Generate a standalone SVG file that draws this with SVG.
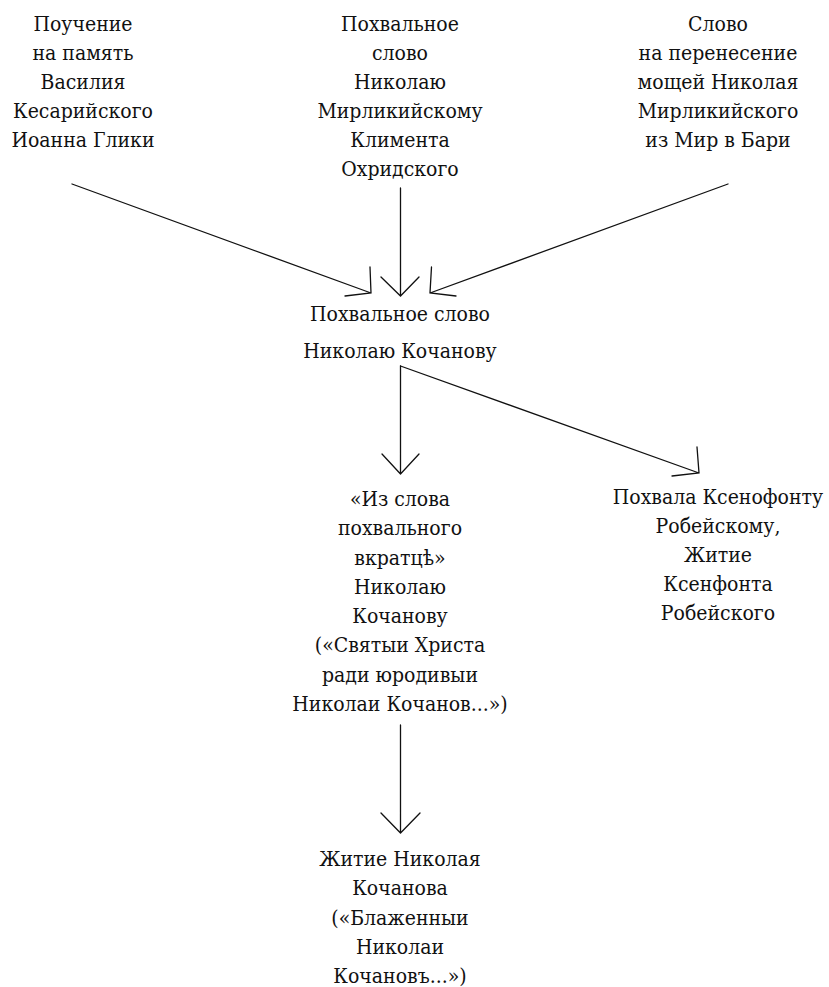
<svg xmlns="http://www.w3.org/2000/svg" width="829" height="987" viewBox="0 0 829 987">
<style>
text{font-size:21px;fill:#111;text-anchor:middle}
.c{fill:none;stroke:#111;stroke-width:1.3;stroke-linecap:round;stroke-linejoin:miter}
</style>
<rect width="829" height="987" fill="#fff"/>
<g font-family="'DejaVu Serif Condensed','DejaVu Serif','Liberation Serif',serif">
<g id="n1">
<text x="83" y="30.5">Поучение</text>
<text x="83" y="59.5">на память</text>
<text x="83" y="88.5">Василия</text>
<text x="83" y="118">Кесарийского</text>
<text x="83" y="147">Иоанна Глики</text>
</g>
<g id="n2">
<text x="400" y="30.5">Похвальное</text>
<text x="400" y="59.5">слово</text>
<text x="400" y="88.5">Николаю</text>
<text x="400" y="118">Мирликийскому</text>
<text x="400" y="147">Климента</text>
<text x="400" y="176">Охридского</text>
</g>
<g id="n3">
<text x="718" y="30.5">Слово</text>
<text x="718" y="59.5">на перенесение</text>
<text x="718" y="88.5">мощей Николая</text>
<text x="718" y="118">Мирликийского</text>
<text x="718" y="147">из Мир в Бари</text>
</g>
<g id="n4">
<text x="400" y="321">Похвальное слово</text>
<text x="400" y="358">Николаю Кочанову</text>
</g>
<g id="n5">
<text x="400" y="506">«Из слова</text>
<text x="400" y="535">похвального</text>
<text x="400" y="565">вкратцѣ»</text>
<text x="400" y="594">Николаю</text>
<text x="400" y="623">Кочанову</text>
<text x="400" y="652">(«Святыи Христа</text>
<text x="400" y="682">ради юродивыи</text>
<text x="400" y="711">Николаи Кочанов...»)</text>
</g>
<g id="n6">
<text x="718" y="504">Похвала Ксенофонту</text>
<text x="718" y="533">Робейскому,</text>
<text x="718" y="562">Житие</text>
<text x="718" y="591">Ксенфонта</text>
<text x="718" y="620">Робейского</text>
</g>
<g id="n7">
<text x="400" y="866">Житие Николая</text>
<text x="400" y="895">Кочанова</text>
<text x="400" y="925">(«Блаженныи</text>
<text x="400" y="954">Николаи</text>
<text x="400" y="983">Кочановъ...»)</text>
</g>
</g>
<g id="connectors">
<path class="c" d="M72 184 L371 293 M370 267 L371 293 L345 296"/>
<path class="c" d="M400.5 188 L400.5 296 M381 277 L400.5 296 L419 277"/>
<path class="c" d="M728 184 L430 293 M431.5 267 L430 293 L456 296"/>
<path class="c" d="M400.5 366 L400.5 474 M382 454 L400.5 474 L419 454"/>
<path class="c" d="M400.5 366 L699 473 M697 447 L699 473 L672 476"/>
<path class="c" d="M400.5 725 L400.5 833 M381 813 L400.5 833 L420 813"/>
</g>
</svg>
